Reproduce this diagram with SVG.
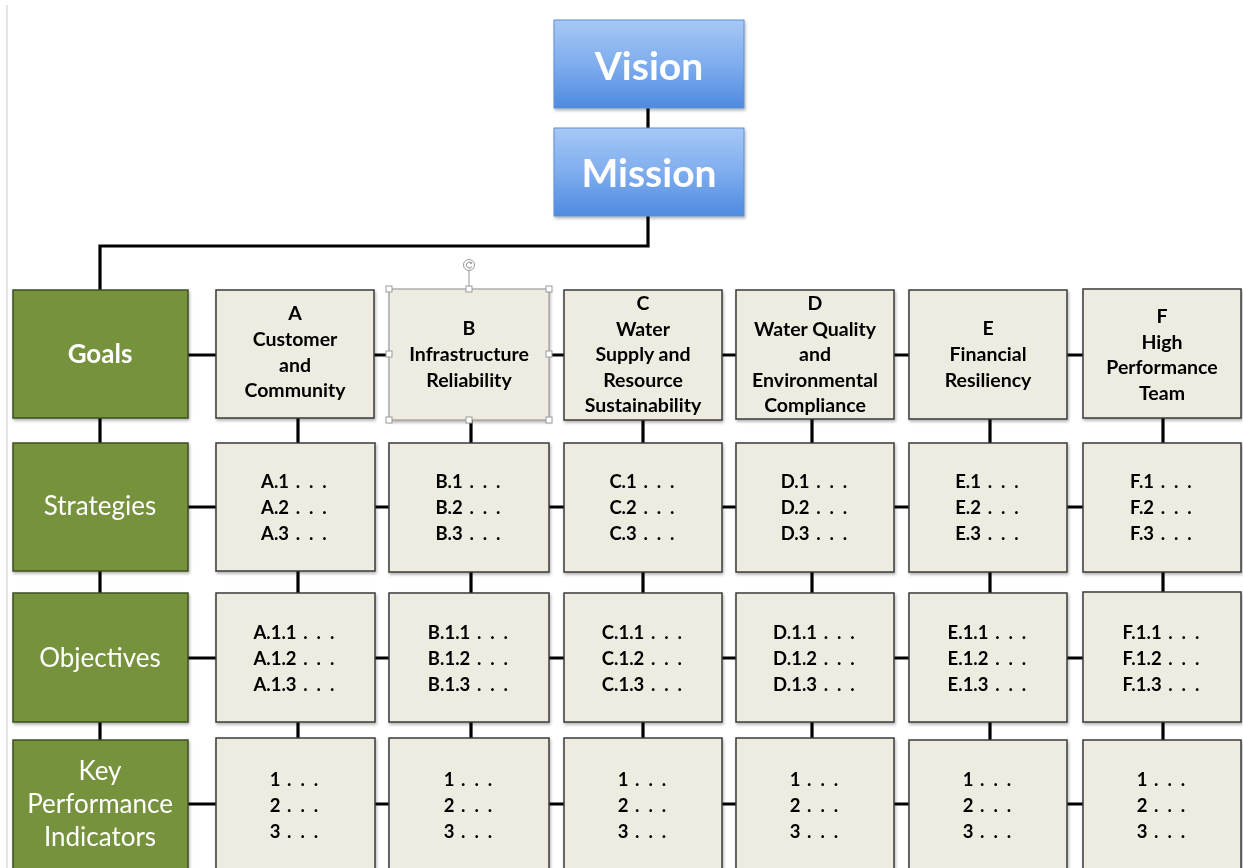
<svg xmlns="http://www.w3.org/2000/svg" width="1243" height="868" viewBox="0 0 1243 868">
<defs>
<linearGradient id="blue" x1="0" y1="0" x2="0" y2="1">
<stop offset="0" stop-color="#a6c8f5"/>
<stop offset="0.5" stop-color="#7fadee"/>
<stop offset="1" stop-color="#4f8ae0"/>
</linearGradient>
<filter id="sh" x="-5%" y="-5%" width="112%" height="115%">
<feDropShadow dx="1" dy="2" stdDeviation="1.5" flood-color="#000" flood-opacity="0.3"/>
</filter>
<style>
.conn{stroke:#000;stroke-width:3.2;fill:none}
.blue{fill:url(#blue);stroke:#5b8fd6;stroke-width:1}
.green{fill:#76923c;stroke:#3f4f1f;stroke-width:1.5}
.tan{fill:#eeece1;stroke:#3a3a3a;stroke-width:1.5}
.sel{fill:#eeece1;stroke:#8a8a8a;stroke-width:1}
.handle{fill:#fff;stroke:#999;stroke-width:1}
text{font-family:Lato,"Open Sans","Liberation Sans",sans-serif;text-anchor:middle}
.big{font-size:39px;font-weight:700;fill:#fff}
.lab{font-size:26px;fill:#fff}
.labb{font-size:26px;fill:#fff;font-weight:700}
.hd{font-size:19.5px;font-weight:700;fill:#000}
.it{font-size:18.5px;font-weight:700;fill:#000}
.d{letter-spacing:2.2px}
</style>
</defs>
<rect x="0" y="0" width="1243" height="868" fill="#fff"/>
<line x1="7" y1="5" x2="7" y2="868" stroke="#dcdcdc" stroke-width="1.5"/>

<g id="connectors">
<line class="conn" x1="648" y1="108" x2="648" y2="128"/>
<path class="conn" d="M648 216 V246 H100 V290"/>
<line class="conn" x1="100" y1="418" x2="100" y2="443"/>
<line class="conn" x1="100" y1="571" x2="100" y2="593"/>
<line class="conn" x1="100" y1="722" x2="100" y2="740"/>
<g>
<line class="conn" x1="298" y1="418" x2="298" y2="443"/>
<line class="conn" x1="298" y1="571" x2="298" y2="593"/>
<line class="conn" x1="298" y1="722" x2="298" y2="740"/>
<line class="conn" x1="471" y1="420" x2="471" y2="443"/>
<line class="conn" x1="471" y1="571" x2="471" y2="593"/>
<line class="conn" x1="471" y1="722" x2="471" y2="740"/>
<line class="conn" x1="643" y1="420" x2="643" y2="443"/>
<line class="conn" x1="643" y1="571" x2="643" y2="593"/>
<line class="conn" x1="643" y1="722" x2="643" y2="740"/>
<line class="conn" x1="812" y1="419" x2="812" y2="443"/>
<line class="conn" x1="812" y1="571" x2="812" y2="593"/>
<line class="conn" x1="812" y1="722" x2="812" y2="740"/>
<line class="conn" x1="990" y1="419" x2="990" y2="443"/>
<line class="conn" x1="990" y1="571" x2="990" y2="593"/>
<line class="conn" x1="990" y1="722" x2="990" y2="740"/>
<line class="conn" x1="1163" y1="418" x2="1163" y2="443"/>
<line class="conn" x1="1163" y1="571" x2="1163" y2="593"/>
<line class="conn" x1="1163" y1="722" x2="1163" y2="740"/>
</g>
<line class="conn" x1="188" y1="355" x2="1083" y2="355"/>
<line class="conn" x1="188" y1="507" x2="1083" y2="507"/>
<line class="conn" x1="188" y1="658" x2="1083" y2="658"/>
<line class="conn" x1="188" y1="804" x2="1083" y2="804"/>
</g>

<g id="vision" filter="url(#sh)">
<rect class="blue" x="554" y="20" width="190" height="88"/>
<text class="big" x="649" y="80">Vision</text>
</g>
<g id="mission" filter="url(#sh)">
<rect class="blue" x="554" y="128" width="190" height="88"/>
<text class="big" x="649" y="187">Mission</text>
</g>

<g id="goals" filter="url(#sh)">
<rect class="green" x="13" y="290" width="175" height="128"/>
<text class="labb" x="100" y="363">Goals</text>
</g>
<g id="strategies" filter="url(#sh)">
<rect class="green" x="13" y="443" width="175" height="128"/>
<text class="lab" x="100" y="515">Strategies</text>
</g>
<g id="objectives" filter="url(#sh)">
<rect class="green" x="13" y="593" width="175" height="129"/>
<text class="lab" x="100" y="667">Objectives</text>
</g>
<g id="kpi" filter="url(#sh)">
<rect class="green" x="13" y="740" width="175" height="140"/>
<text class="lab" x="100" y="780">Key</text>
<text class="lab" x="100" y="813">Performance</text>
<text class="lab" x="100" y="846">Indicators</text>
</g>

<!-- Goal headers -->
<g id="goal-a" filter="url(#sh)">
<rect class="tan" x="216" y="290" width="158" height="128"/>
<text class="hd" x="295" y="320">A</text>
<text class="hd" x="295" y="346">Customer</text>
<text class="hd" x="295" y="372">and</text>
<text class="hd" x="295" y="397">Community</text>
</g>
<g id="goal-b" filter="url(#sh)">
<rect class="sel" x="389" y="289" width="160" height="131"/>
<text class="hd" x="469" y="335">B</text>
<text class="hd" x="469" y="361">Infrastructure</text>
<text class="hd" x="469" y="387">Reliability</text>
</g>
<g id="goal-c" filter="url(#sh)">
<rect class="tan" x="564" y="290" width="158" height="130"/>
<text class="hd" x="643" y="310">C</text>
<text class="hd" x="643" y="336">Water</text>
<text class="hd" x="643" y="361">Supply and</text>
<text class="hd" x="643" y="387">Resource</text>
<text class="hd" x="643" y="412">Sustainability</text>
</g>
<g id="goal-d" filter="url(#sh)">
<rect class="tan" x="736" y="290" width="158" height="129"/>
<text class="hd" x="815" y="310">D</text>
<text class="hd" x="815" y="336">Water Quality</text>
<text class="hd" x="815" y="361">and</text>
<text class="hd" x="815" y="387">Environmental</text>
<text class="hd" x="815" y="412">Compliance</text>
</g>
<g id="goal-e" filter="url(#sh)">
<rect class="tan" x="909" y="290" width="158" height="129"/>
<text class="hd" x="988" y="335">E</text>
<text class="hd" x="988" y="361">Financial</text>
<text class="hd" x="988" y="387">Resiliency</text>
</g>
<g id="goal-f" filter="url(#sh)">
<rect class="tan" x="1083" y="289" width="158" height="129"/>
<text class="hd" x="1162" y="323">F</text>
<text class="hd" x="1162" y="349">High</text>
<text class="hd" x="1162" y="374">Performance</text>
<text class="hd" x="1162" y="400">Team</text>
</g>

<!-- selection handles on B -->
<g id="selection">
<line x1="469" y1="270" x2="469" y2="289" stroke="#999" stroke-width="1"/>
<circle cx="469" cy="265" r="5.5" class="handle"/>
<path d="M471.5 263 A3 3 0 1 0 472 266.5" fill="none" stroke="#888" stroke-width="1"/>
<path d="M470.5 261.5 L472.5 263.5 L469.8 263.8 Z" fill="#888"/>
<rect class="handle" x="386" y="286" width="6" height="6"/>
<rect class="handle" x="466" y="286" width="6" height="6"/>
<rect class="handle" x="546" y="286" width="6" height="6"/>
<rect class="handle" x="386" y="351" width="6" height="6"/>
<rect class="handle" x="546" y="351" width="6" height="6"/>
<rect class="handle" x="386" y="417" width="6" height="6"/>
<rect class="handle" x="466" y="417" width="6" height="6"/>
<rect class="handle" x="546" y="417" width="6" height="6"/>
</g>

<!-- Strategies -->
<g id="strat-a" filter="url(#sh)">
<rect class="tan" x="216" y="443" width="159" height="128"/>
<text class="it" x="295" y="488">A.1<tspan class="d"> . . .</tspan></text>
<text class="it" x="295" y="514">A.2<tspan class="d"> . . .</tspan></text>
<text class="it" x="295" y="540">A.3<tspan class="d"> . . .</tspan></text>
</g>
<g id="strat-b" filter="url(#sh)">
<rect class="tan" x="389" y="443" width="160" height="129"/>
<text class="it" x="469" y="488">B.1<tspan class="d"> . . .</tspan></text>
<text class="it" x="469" y="514">B.2<tspan class="d"> . . .</tspan></text>
<text class="it" x="469" y="540">B.3<tspan class="d"> . . .</tspan></text>
</g>
<g id="strat-c" filter="url(#sh)">
<rect class="tan" x="564" y="443" width="158" height="129"/>
<text class="it" x="643" y="488">C.1<tspan class="d"> . . .</tspan></text>
<text class="it" x="643" y="514">C.2<tspan class="d"> . . .</tspan></text>
<text class="it" x="643" y="540">C.3<tspan class="d"> . . .</tspan></text>
</g>
<g id="strat-d" filter="url(#sh)">
<rect class="tan" x="736" y="443" width="158" height="129"/>
<text class="it" x="815" y="488">D.1<tspan class="d"> . . .</tspan></text>
<text class="it" x="815" y="514">D.2<tspan class="d"> . . .</tspan></text>
<text class="it" x="815" y="540">D.3<tspan class="d"> . . .</tspan></text>
</g>
<g id="strat-e" filter="url(#sh)">
<rect class="tan" x="909" y="443" width="158" height="129"/>
<text class="it" x="988" y="488">E.1<tspan class="d"> . . .</tspan></text>
<text class="it" x="988" y="514">E.2<tspan class="d"> . . .</tspan></text>
<text class="it" x="988" y="540">E.3<tspan class="d"> . . .</tspan></text>
</g>
<g id="strat-f" filter="url(#sh)">
<rect class="tan" x="1083" y="443" width="158" height="129"/>
<text class="it" x="1162" y="488">F.1<tspan class="d"> . . .</tspan></text>
<text class="it" x="1162" y="514">F.2<tspan class="d"> . . .</tspan></text>
<text class="it" x="1162" y="540">F.3<tspan class="d"> . . .</tspan></text>
</g>

<!-- Objectives -->
<g id="obj-a" filter="url(#sh)">
<rect class="tan" x="216" y="593" width="159" height="129"/>
<text class="it" x="295" y="639">A.1.1<tspan class="d"> . . .</tspan></text>
<text class="it" x="295" y="665">A.1.2<tspan class="d"> . . .</tspan></text>
<text class="it" x="295" y="691">A.1.3<tspan class="d"> . . .</tspan></text>
</g>
<g id="obj-b" filter="url(#sh)">
<rect class="tan" x="389" y="593" width="160" height="129"/>
<text class="it" x="469" y="639">B.1.1<tspan class="d"> . . .</tspan></text>
<text class="it" x="469" y="665">B.1.2<tspan class="d"> . . .</tspan></text>
<text class="it" x="469" y="691">B.1.3<tspan class="d"> . . .</tspan></text>
</g>
<g id="obj-c" filter="url(#sh)">
<rect class="tan" x="564" y="593" width="158" height="129"/>
<text class="it" x="643" y="639">C.1.1<tspan class="d"> . . .</tspan></text>
<text class="it" x="643" y="665">C.1.2<tspan class="d"> . . .</tspan></text>
<text class="it" x="643" y="691">C.1.3<tspan class="d"> . . .</tspan></text>
</g>
<g id="obj-d" filter="url(#sh)">
<rect class="tan" x="736" y="593" width="158" height="129"/>
<text class="it" x="815" y="639">D.1.1<tspan class="d"> . . .</tspan></text>
<text class="it" x="815" y="665">D.1.2<tspan class="d"> . . .</tspan></text>
<text class="it" x="815" y="691">D.1.3<tspan class="d"> . . .</tspan></text>
</g>
<g id="obj-e" filter="url(#sh)">
<rect class="tan" x="909" y="593" width="158" height="129"/>
<text class="it" x="988" y="639">E.1.1<tspan class="d"> . . .</tspan></text>
<text class="it" x="988" y="665">E.1.2<tspan class="d"> . . .</tspan></text>
<text class="it" x="988" y="691">E.1.3<tspan class="d"> . . .</tspan></text>
</g>
<g id="obj-f" filter="url(#sh)">
<rect class="tan" x="1083" y="592" width="158" height="130"/>
<text class="it" x="1162" y="639">F.1.1<tspan class="d"> . . .</tspan></text>
<text class="it" x="1162" y="665">F.1.2<tspan class="d"> . . .</tspan></text>
<text class="it" x="1162" y="691">F.1.3<tspan class="d"> . . .</tspan></text>
</g>

<!-- KPIs -->
<g id="kpi-a" filter="url(#sh)">
<rect class="tan" x="216" y="738" width="159" height="140"/>
<text class="it" x="295" y="786">1<tspan class="d"> . . .</tspan></text>
<text class="it" x="295" y="812">2<tspan class="d"> . . .</tspan></text>
<text class="it" x="295" y="838">3<tspan class="d"> . . .</tspan></text>
</g>
<g id="kpi-b" filter="url(#sh)">
<rect class="tan" x="389" y="738" width="160" height="140"/>
<text class="it" x="469" y="786">1<tspan class="d"> . . .</tspan></text>
<text class="it" x="469" y="812">2<tspan class="d"> . . .</tspan></text>
<text class="it" x="469" y="838">3<tspan class="d"> . . .</tspan></text>
</g>
<g id="kpi-c" filter="url(#sh)">
<rect class="tan" x="564" y="738" width="158" height="140"/>
<text class="it" x="643" y="786">1<tspan class="d"> . . .</tspan></text>
<text class="it" x="643" y="812">2<tspan class="d"> . . .</tspan></text>
<text class="it" x="643" y="838">3<tspan class="d"> . . .</tspan></text>
</g>
<g id="kpi-d" filter="url(#sh)">
<rect class="tan" x="736" y="738" width="158" height="140"/>
<text class="it" x="815" y="786">1<tspan class="d"> . . .</tspan></text>
<text class="it" x="815" y="812">2<tspan class="d"> . . .</tspan></text>
<text class="it" x="815" y="838">3<tspan class="d"> . . .</tspan></text>
</g>
<g id="kpi-e" filter="url(#sh)">
<rect class="tan" x="909" y="740" width="158" height="140"/>
<text class="it" x="988" y="786">1<tspan class="d"> . . .</tspan></text>
<text class="it" x="988" y="812">2<tspan class="d"> . . .</tspan></text>
<text class="it" x="988" y="838">3<tspan class="d"> . . .</tspan></text>
</g>
<g id="kpi-f" filter="url(#sh)">
<rect class="tan" x="1083" y="740" width="158" height="140"/>
<text class="it" x="1162" y="786">1<tspan class="d"> . . .</tspan></text>
<text class="it" x="1162" y="812">2<tspan class="d"> . . .</tspan></text>
<text class="it" x="1162" y="838">3<tspan class="d"> . . .</tspan></text>
</g>
</svg>
